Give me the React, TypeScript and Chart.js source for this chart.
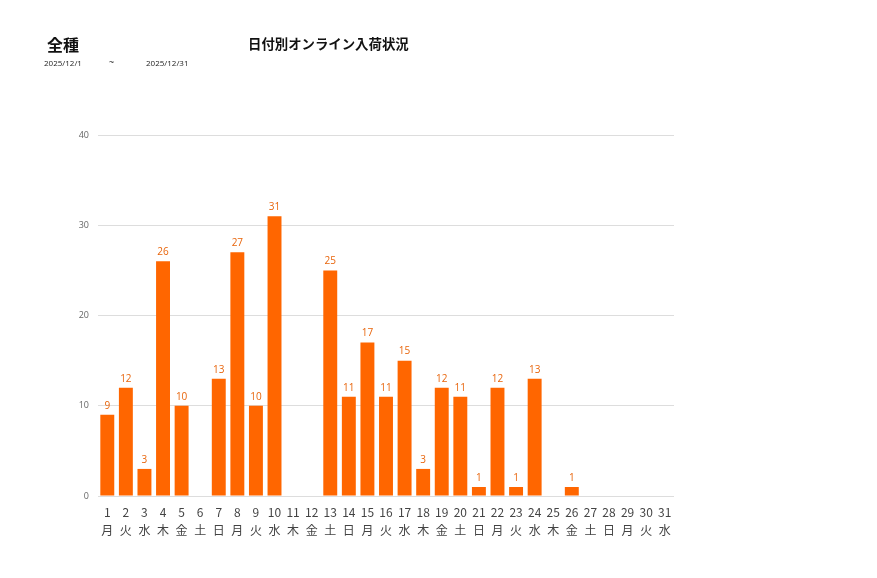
import React, { useEffect, useRef } from 'react';
import { Chart, registerables } from 'chart.js';

Chart.register(...registerables);

// 日付と曜日
const days: string[] = Array.from({ length: 31 }, (_, i) => String(i + 1));
const weekdays: string[] = [
  '月', '火', '水', '木', '金', '土', '日',
  '月', '火', '水', '木', '金', '土', '日',
  '月', '火', '水', '木', '金', '土', '日',
  '月', '火', '水', '木', '金', '土', '日',
  '月', '火', '水',
];
// 入荷件数
const arrivals: number[] = [
  9, 12, 3, 26, 10, 0, 13, 27, 10, 31, 0, 0, 25, 11, 17, 11,
  15, 3, 12, 11, 1, 12, 1, 13, 0, 1, 0, 0, 0, 0, 0,
];
const yTicks: number[] = [0, 10, 20, 30, 40];

const BAR_COLOR = '#ff6600';
const JP_FONT = '"Noto Sans CJK JP", "Noto Sans", sans-serif';

// 棒の上に値を表示するプラグイン
const valueLabels = {
  id: 'valueLabels',
  afterDatasetsDraw(chart: Chart) {
    const ctx = chart.ctx;
    const meta = chart.getDatasetMeta(0);
    ctx.save();
    ctx.font = '10px "Open Sans", sans-serif';
    ctx.fillStyle = '#e8650c';
    ctx.textAlign = 'center';
    ctx.textBaseline = 'bottom';
    meta.data.forEach((bar: any, i: number) => {
      const v = arrivals[i];
      if (!v) return;
      ctx.fillText(String(v), bar.x, bar.y - 4);
    });
    ctx.restore();
  },
};

const ArrivalChart: React.FC = () => {
  const chartRef = useRef<HTMLCanvasElement | null>(null);
  const chartInstanceRef = useRef<Chart | null>(null);

  useEffect(() => {
    if (!chartRef.current) return;
    const ctx = chartRef.current.getContext('2d');
    if (!ctx) return;
    if (chartInstanceRef.current) chartInstanceRef.current.destroy();

    chartInstanceRef.current = new Chart(ctx, {
      type: 'bar',
      data: {
        labels: days.map((d, i) => [d, weekdays[i]]),
        datasets: [
          {
            label: '入荷',
            data: arrivals,
            backgroundColor: BAR_COLOR,
            borderWidth: 0,
            barPercentage: 0.75,
            categoryPercentage: 1,
          },
        ],
      },
      options: {
        responsive: false,
        animation: false,
        layout: { padding: { left: 58, right: 203, top: 135, bottom: 32 } },
        plugins: {
          legend: { display: false },
          tooltip: { enabled: false },
        },
        scales: {
          x: {
            grid: { display: false },
            border: { display: false },
            ticks: {
              color: '#444',
              font: { size: 12, family: JP_FONT, lineHeight: 1.45 },
              padding: 0,
              maxRotation: 0,
              autoSkip: false,
            },
            afterFit: (scale: any) => {
              scale.height = 50;
            },
          },
          y: {
            min: 0,
            max: 40,
            afterBuildTicks: (scale: any) => {
              scale.ticks = yTicks.map((v) => ({ value: v }));
            },
            grid: { color: '#dddddd', drawTicks: false },
            border: { display: false },
            ticks: {
              color: '#666',
              font: { size: 9, family: '"Open Sans", sans-serif' },
              padding: 9,
            },
            afterFit: (scale: any) => {
              scale.width = 40;
            },
          },
        },
      },
      plugins: [valueLabels],
    });

    return () => {
      if (chartInstanceRef.current) {
        chartInstanceRef.current.destroy();
        chartInstanceRef.current = null;
      }
    };
  }, []);

  return (
    <canvas
      ref={chartRef}
      width={877}
      height={578}
      style={{ position: 'absolute', left: 0, top: 0, width: 877, height: 578 }}
    />
  );
};

export default function App() {
  return (
    <div
      style={{
        position: 'absolute',
        left: 0,
        top: 0,
        width: 877,
        height: 578,
        background: '#fff',
        fontFamily: JP_FONT,
        overflow: 'hidden',
      }}
    >
      <ArrivalChart />
      <div style={{ position: 'absolute', left: 47, top: 32, fontSize: 16, fontWeight: 'bold', color: '#111' }}>
        全種
      </div>
      <div style={{ position: 'absolute', left: 248, top: 33, fontSize: 13.4, fontWeight: 'bold', color: '#111' }}>
        日付別オンライン入荷状況
      </div>
      <div style={{ position: 'absolute', left: 44, top: 57, fontSize: 8, color: '#222', fontFamily: '"Open Sans", sans-serif' }}>
        2025/12/1
      </div>
      <div style={{ position: 'absolute', left: 109, top: 55, fontSize: 9, color: '#222', fontFamily: '"Open Sans", sans-serif' }}>
        ~
      </div>
      <div style={{ position: 'absolute', left: 146, top: 57, fontSize: 8, color: '#222', fontFamily: '"Open Sans", sans-serif' }}>
        2025/12/31
      </div>
    </div>
  );
}
